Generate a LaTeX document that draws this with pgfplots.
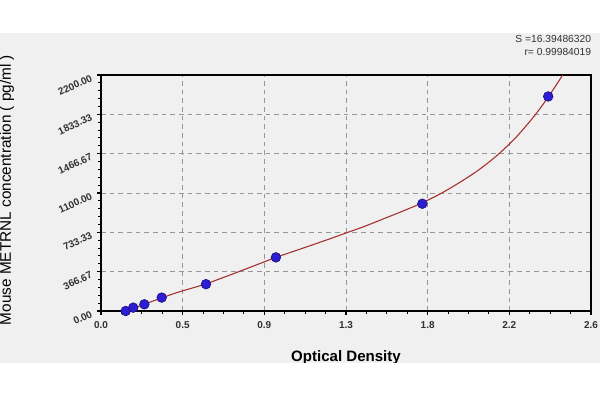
\documentclass[border=0pt]{standalone}
\usepackage{fontspec}
\setmainfont{Liberation Sans}
\usepackage{pgfplots}
\pgfplotsset{compat=1.18}
\usepackage{pgfplotstable}

\definecolor{panel}{RGB}{240,240,240}
\definecolor{gridc}{RGB}{150,150,150}
\definecolor{fitc}{RGB}{165,45,45}
\definecolor{markf}{RGB}{45,30,210}
\definecolor{markd}{RGB}{25,15,130}
\definecolor{labc}{RGB}{50,50,50}

% standards: optical density vs concentration
\pgfplotstableread{
od     conc
0.131  0
0.171  31.25
0.230  62.5
0.322  125
0.557  250
0.928  500
1.705  1000
2.373  2000
}\standards

% fitted curve
\pgfplotstableread{
od     conc
0.131  0
0.20   44
0.30   108
0.40   170
0.50   222
0.557  252
0.60   280
0.70   346
0.80   413
0.928  500
1.0    543
1.1    603
1.2    664
1.3    727
1.4    790
1.5    860
1.6    930
1.7    1005
1.8    1092
1.9    1195
2.0    1310
2.1    1448
2.2    1615
2.3    1820
2.373  1995
2.45   2200
}\fit

\begin{document}
\begin{tikzpicture}
\path[use as bounding box] (0,0) rectangle (450pt,300pt);
\clip (0,0) rectangle (450pt,300pt);
\fill[white] (0,0) rectangle (450pt,300pt);
\fill[panel] (0,27.75pt) rectangle (450pt,275.25pt);

\begin{axis}[
  at={(75.75pt,66.75pt)}, anchor=south west,
  scale only axis, width=367.5pt, height=177pt,
  xmin=0, xmax=2.6, ymin=0, ymax=2200,
  xtick={0,0.4333333,0.8666667,1.3,1.7333333,2.1666667,2.6},
  xticklabels={0.0,0.5,0.9,1.3,1.8,2.2,2.6},
  ytick={0,366.6667,733.3333,1100,1466.6667,1833.3333,2200},
  yticklabels={0.00,366.67,733.33,1100.00,1466.67,1833.33,2200.00},
  minor x tick num=3, minor y tick num=4,
  tick align=outside, xtick pos=bottom, ytick pos=left,
  major tick length=3pt, minor tick length=2.6pt,
  every tick/.style={black, line width=0.8pt},
  axis line style={black, line width=1.1pt},
  grid=major,
  major grid style={gridc, line width=0.7pt, dash pattern=on 3.5pt off 3pt},
  xticklabel style={font=\fontsize{7.5}{9}\selectfont\bfseries, text=labc, yshift=-1pt},
  yticklabel style={font=\fontsize{7.5}{9}\selectfont\bfseries, text=labc, rotate=25, anchor=east, xshift=-1pt},
  xlabel={Optical Density},
  ylabel={Mouse METRNL concentration ( pg/ml )},
  xlabel style={font=\fontsize{11.3}{13}\selectfont\bfseries, at={(axis description cs:0.5,-0.2119)}, anchor=base},
  ylabel style={font=\fontsize{11.5}{13}\selectfont, at={(axis description cs:-0.1837,0.5127)}, anchor=base, rotate=0},
  clip=true,
]
\addplot[fitc, line width=0.8pt, smooth] table[x=od, y=conc] {\fit};
\addplot[only marks, mark=*, mark size=3.6pt, mark options={fill=markf, draw=markd, line width=0.5pt}] table[x=od, y=conc] {\standards};
\end{axis}

\fill[white] (0,0) rectangle (450pt,27.75pt);
\node[anchor=base east, font=\fontsize{7.7}{9}\selectfont, text=labc, inner sep=0pt] at (443.5pt,267.75pt) {S =16.39486320};
\node[anchor=base east, font=\fontsize{7.7}{9}\selectfont, text=labc, inner sep=0pt] at (443.5pt,258pt) {r= 0.99984019};
\end{tikzpicture}
\end{document}
